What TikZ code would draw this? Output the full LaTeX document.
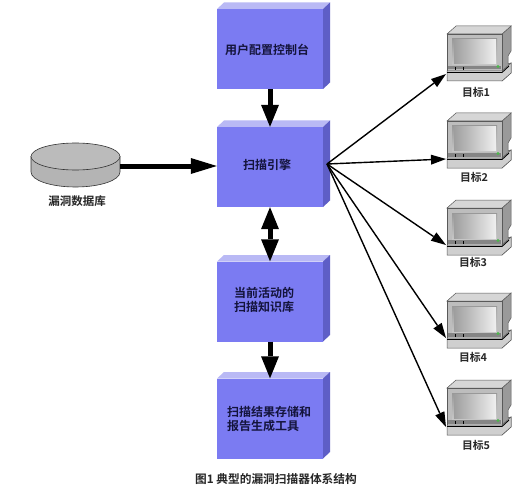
\documentclass[tikz,border=0pt]{standalone}
\usepackage{fontspec}
\newfontfamily\cjk{Noto Sans CJK SC}[BoldFont={Noto Sans CJK SC Bold}]
\usetikzlibrary{arrows.meta,calc}
\definecolor{boxfront}{HTML}{7B7BF2}
\definecolor{boxtop}{HTML}{B9B9F5}
\definecolor{boxside}{HTML}{5E5EC6}
\definecolor{dbgray}{HTML}{B4B4B4}
\definecolor{moncase}{HTML}{BDBDBD}
\definecolor{montop}{HTML}{D6D6D6}
\definecolor{monside}{HTML}{9A9A9A}
\definecolor{monbase}{HTML}{CFCFCF}
\definecolor{inktext}{HTML}{14143C}
\tikzset{
  x=1pt,y=-1pt,
  fatarrow/.style={line width=5pt,-{Triangle[width=18pt,length=22pt,line width=0pt]}},
  dbarrow/.style={line width=5pt,-{Triangle[width=16pt,length=26pt,line width=0pt]}},
  fatboth/.style={line width=5pt,{Triangle[width=18pt,length=22pt,line width=0pt]}-{Triangle[width=18pt,length=22pt,line width=0pt]}},
  thinarrow/.style={line width=1.4pt,-{Triangle[width=10pt,length=15pt,line width=0pt]}},
  blockface/.style={rectangle,fill=boxfront,minimum width=106pt,minimum height=80pt,inner sep=0pt},
  blocktext/.style={inner sep=0pt,align=left,font=\cjk\bfseries\fontsize{12}{14.5}\selectfont,text=inktext},
  smalltext/.style={font=\cjk\bfseries\fontsize{10.8}{13}\selectfont,inner sep=0pt,text=black!85}
}
% #1 name, #2 centre x, #3 centre y
\newcommand{\blockthree}[3]{%
  \fill[boxtop] (#2-53,#3-40) -- ++(7,-6.5) -- ++(106,0) -- ++(-7,6.5) -- cycle;
  \fill[boxside] (#2+53,#3-40) -- ++(7,-6.5) -- ++(0,80) -- ++(-7,6.5) -- cycle;
  \node[blockface] (#1) at (#2,#3) {};
}
% #1 name, #2 x, #3 y of front-top-left, #4 y offset of the connector's end
\newcommand{\monitorpic}[4]{%
  \begin{scope}[shift={(#2,#3)}]
    \fill[monside,draw=black!65,line width=.5pt] (55,0) -- (64,-8) -- (64,17) -- (61,22) -- (61,30) -- (64,29) -- (64,39) -- (55,47) -- cycle;
    \fill[montop,draw=black!65,line width=.5pt] (0,0) -- (9,-8) -- (64,-8) -- (55,0) -- cycle;
    \fill[moncase,draw=black!65,line width=.5pt] (0,0) rectangle (55,37);
    \shade[top color=black!40,bottom color=black!22] (5,5) rectangle (50,31);
    \shade[shading angle=120,left color=black!38,right color=black!6] (7,6) rectangle (49,30);
    \fill[black!48] (1,32) rectangle (54,35.5);
    \fill[monbase,draw=black!65,line width=.5pt] (0,37) -- (55,37) -- (64,29) -- (64,39) -- (55,47) -- (0,47) -- cycle;
    \draw[black,line width=.9pt] (0,38.5) -- (55,38.5) -- (62,32);
    \fill[green!60!black!70] (51,32.5) circle (1.6pt);
    \draw[black,line width=.5pt] (8,33) -- (8,36) (16,33) -- (16,36);
    \coordinate (#1) at (-1,#4);
  \end{scope}
}
\begin{document}
\begin{tikzpicture}[x=1pt,y=-1pt]
\useasboundingbox (0,0) rectangle (521,489);
\fill[white] (0,0) rectangle (521,489);
\blockthree{b1}{270}{49}
\blockthree{b2}{270}{167}
\blockthree{b3}{270}{301.5}
\blockthree{b4}{270}{418.5}
\node[blocktext] (t1) at (267,50) {用户配置控制台};
\node[blocktext] (t2) at (267,165) {扫描引擎};
\node[blocktext] (t3) at (264,300) {当前活动的\\扫描知识库};
\node[blocktext] (t4) at (269,419) {扫描结果存储和\\报告生成工具};
% database
\fill[dbgray,draw=black!80,line width=.6pt] (31,156.5) -- (31,172) arc[start angle=180,end angle=360,x radius=44.5,y radius=-15] -- (120,156.5) -- cycle;
\fill[dbgray!90!white,draw=black!80,line width=.6pt] (75.5,156.5) ellipse [x radius=44.5,y radius=13.5];
\coordinate (dbr) at (120,166);
\node[smalltext,font=\cjk\bfseries\fontsize{11.5}{13}\selectfont] (dblabel) at (77,201) {漏洞数据库};
% monitors
\monitorpic{m1}{447}{34}{40}
\monitorpic{m2}{447}{121}{38}
\monitorpic{m3}{447}{208}{37}
\monitorpic{m4}{447}{301}{37}
\monitorpic{m5}{447}{388}{39}
\node[smalltext] (l1) at (476,92) {目标1};
\node[smalltext] (l2) at (474,177) {目标2};
\node[smalltext] (l3) at (473,262) {目标3};
\node[smalltext] (l4) at (473,357) {目标4};
\node[smalltext] (l5) at (476,445) {目标5};
\coordinate (hub) at (327,164);
\draw[fatarrow] (b1.south) -- (b2.north);
\draw[dbarrow] (dbr) -- (b2.west |- dbr);
\draw[fatboth] (b2.south) -- (b3.north);
\draw[fatarrow] (b3.south) -- (b4.north);
\foreach \m in {m1,m2,m3,m4,m5}{\draw[thinarrow] (hub) -- (\m);}
\node[smalltext,font=\cjk\bfseries\fontsize{11.7}{13}\selectfont] (caption) at (276,479) {图1 典型的漏洞扫描器体系结构};
\end{tikzpicture}
\end{document}
